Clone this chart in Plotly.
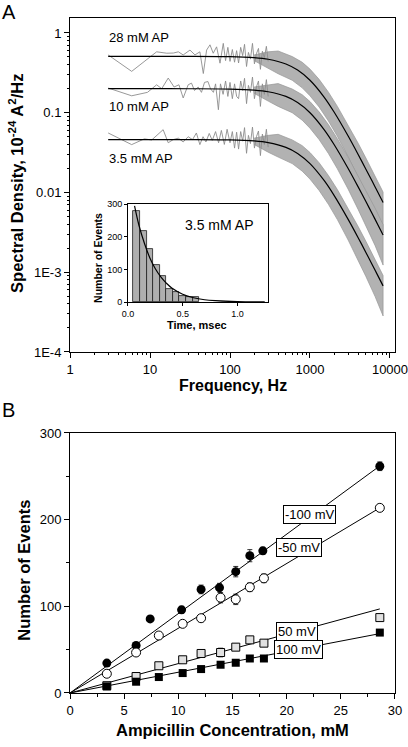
import plotly.graph_objects as go

# ---------------- Panel A: spectral density ----------------
fit_freq = [3, 10, 30, 100, 200, 300, 500, 700, 1000, 1500, 2000, 3000, 4000, 5000, 6000, 7000, 8200]
fit_28 = [0.51, 0.51, 0.5095, 0.505, 0.490, 0.468, 0.408, 0.342, 0.255, 0.157, 0.102, 0.051, 0.030, 0.0196, 0.0138, 0.0102, 0.00747]
fit_10 = [0.20, 0.20, 0.1998, 0.198, 0.192, 0.183, 0.160, 0.134, 0.100, 0.0615, 0.040, 0.020, 0.01176, 0.00769, 0.00541, 0.0040, 0.00293]
fit_35 = [0.046, 0.046, 0.04596, 0.04554, 0.04423, 0.0422, 0.0368, 0.0309, 0.023, 0.01415, 0.0092, 0.0046, 0.00271, 0.00177, 0.00124, 0.00092, 0.000674]

# low-frequency raw spectrum points
raw_freq_28 = [3.0, 5.9, 12.1, 16.2, 19.6, 22.6, 26, 31.6, 36.5, 42, 46.4, 51, 56.2, 61.7, 68, 75, 82.4, 88, 94, 100, 107, 114, 121,
               128, 136, 144, 152, 161, 170, 180, 191, 202, 214, 227, 240, 254, 269, 285, 300]
raw_28 = [0.53, 0.33, 0.58, 0.557, 0.56, 0.58, 0.53, 0.61, 0.53, 0.58, 0.31, 0.61, 0.71, 0.557, 0.67, 0.418, 0.74, 0.45, 0.66, 0.44, 0.62, 0.43, 0.60,
          0.42, 0.66, 0.52, 0.72, 0.38, 0.57, 0.47, 0.74, 0.41, 0.55, 0.64, 0.35, 0.59, 0.49, 0.68, 0.44]
raw_freq_10 = [3.0, 5.9, 9.3, 11, 12.1, 14, 16.9, 20, 23, 26, 30, 33, 36, 40, 44, 48, 53, 57, 62, 66, 71.6, 76, 82, 88, 94, 100, 107, 114, 121,
               128, 136, 144, 152, 161, 170, 180, 191, 202, 214, 227, 240, 254, 269, 285, 300]
raw_10 = [0.204, 0.163, 0.18, 0.204, 0.224, 0.20, 0.272, 0.21, 0.224, 0.153, 0.224, 0.235, 0.19, 0.21, 0.18, 0.24, 0.246, 0.20, 0.18, 0.23, 0.109, 0.23, 0.17, 0.25, 0.16, 0.24, 0.15, 0.23, 0.16,
          0.15, 0.25, 0.19, 0.27, 0.13, 0.22, 0.18, 0.28, 0.15, 0.21, 0.25, 0.12, 0.23, 0.17, 0.26, 0.16]
raw_freq_35 = [3.0, 5.9, 8.5, 10.5, 14.6, 16.9, 19.5, 22.6, 26, 30, 34, 38, 42, 46, 50, 55, 60, 66, 72, 78, 85, 92, 100, 107, 114, 121,
               128, 136, 144, 152, 161, 170, 180, 191, 202, 214, 227, 240, 254, 269, 285, 300]
raw_35 = [0.0557, 0.0398, 0.047, 0.0455, 0.0613, 0.042, 0.046, 0.048, 0.043, 0.05, 0.046, 0.0557, 0.0398, 0.05, 0.043, 0.055, 0.045, 0.058, 0.042, 0.06, 0.04, 0.062, 0.042, 0.058, 0.036, 0.057,
          0.035, 0.058, 0.044, 0.065, 0.031, 0.052, 0.041, 0.066, 0.036, 0.050, 0.059, 0.029, 0.054, 0.040, 0.062, 0.037]

# dense high-frequency spectrum: upper / lower envelopes
band_freq = [200, 300, 400, 600, 800, 1000, 1300, 1700, 2200, 3000, 4000, 5000, 6500, 8200]
up_28 = [0.53, 0.58, 0.594, 0.506, 0.429, 0.352, 0.262, 0.181, 0.120, 0.0704, 0.0414, 0.0270, 0.0163, 0.0101]
lo_28 = [0.45, 0.36, 0.308, 0.255, 0.205, 0.163, 0.118, 0.0786, 0.0506, 0.0281, 0.0156, 0.0098, 0.00555, 0.00314]
up_10 = [0.21, 0.225, 0.232, 0.198, 0.168, 0.138, 0.1025, 0.0709, 0.0472, 0.0276, 0.0162, 0.0106, 0.00638, 0.00396]
lo_10 = [0.175, 0.14, 0.120, 0.100, 0.0805, 0.064, 0.0461, 0.0308, 0.0198, 0.011, 0.00612, 0.00385, 0.00217, 0.00123]
up_35 = [0.048, 0.052, 0.0536, 0.0456, 0.0386, 0.0317, 0.0236, 0.0163, 0.01087, 0.00635, 0.00374, 0.00244, 0.00146, 0.00091]
lo_35 = [0.040, 0.032, 0.0278, 0.0230, 0.0185, 0.0147, 0.0106, 0.0071, 0.00457, 0.00253, 0.00141, 0.000885, 0.000498, 0.000283]

# inset histogram
hist_t = [0.08, 0.14, 0.20, 0.26, 0.32, 0.38, 0.44, 0.50, 0.56, 0.62]
hist_n = [280, 218, 162, 112, 81, 40, 30, 18, 14, 16]
hist_fit_t = [0.06, 0.1, 0.15, 0.2, 0.25, 0.3, 0.35, 0.4, 0.5, 0.6, 0.7, 0.8, 1.0, 1.25]
hist_fit_n = [294, 235, 180, 135, 102, 77, 58, 43, 24, 13, 7, 4, 1, 0.3]

# ---------------- Panel B: number of events vs ampicillin concentration ----------------
conc_m100 = [3.4, 6.1, 7.4, 10.3, 12.1, 13.8, 15.3, 16.6, 17.8, 28.6]
ev_m100 = [34.5, 54.8, 85.5, 95.9, 119.5, 121.5, 140, 158.4, 164, 261.6]
err_m100 = [3, 3, 3, 4, 5, 5, 6, 7, 4, 5]
conc_m50 = [3.4, 6.1, 8.2, 10.4, 12.1, 13.9, 15.3, 16.6, 17.9, 28.6]
ev_m50 = [22.2, 46.7, 66.3, 79.8, 86.3, 110, 108, 122, 132.3, 213.6]
err_m50 = [3, 3, 3, 3, 4, 6, 6, 5, 5, 3]
conc_p50 = [3.4, 6.1, 8.2, 10.4, 12.1, 13.9, 15.3, 16.6, 17.9, 28.6]
ev_p50 = [8.4, 19, 31.4, 38.3, 45.6, 46.7, 52.9, 61.3, 57.5, 87]
err_p50 = [2, 2, 3, 3, 3, 5, 3, 3, 3, 3]
conc_p100 = [3.4, 6.1, 8.2, 10.4, 12.1, 13.9, 15.3, 16.6, 17.9, 28.6]
ev_p100 = [7.6, 13, 18.4, 23, 27.6, 32.6, 34.9, 39.8, 39.8, 69.7]
fit_conc = [0, 28.6]
fitline_m100 = [0, 262]
fitline_m50 = [0, 213.6]
fitline_p50 = [0, 97]
fitline_p100 = [0, 68.5]

FONT = "Liberation Sans, Arial, sans-serif"
GRAY = "rgb(140,140,140)"
BAND = "rgb(178,178,178)"

fig = go.Figure()

# Panel A bands
for up, lo in [(up_28, lo_28), (up_10, lo_10), (up_35, lo_35)]:
    fig.add_trace(go.Scatter(x=band_freq + band_freq[::-1], y=up + lo[::-1], fill="toself",
                             fillcolor=BAND, line=dict(width=0.7, color="rgb(150,150,150)"), mode="lines",
                             xaxis="x", yaxis="y", hoverinfo="skip", showlegend=False))
for fx, fy in [(raw_freq_28, raw_28), (raw_freq_10, raw_10), (raw_freq_35, raw_35)]:
    fig.add_trace(go.Scatter(x=fx, y=fy, mode="lines", line=dict(width=0.9, color=GRAY),
                             xaxis="x", yaxis="y", showlegend=False))
for fy in [fit_28, fit_10, fit_35]:
    fig.add_trace(go.Scatter(x=fit_freq, y=fy, mode="lines", line=dict(width=1.2, color="black", shape="spline", smoothing=0.8),
                             xaxis="x", yaxis="y", showlegend=False))

# Inset
fig.add_trace(go.Bar(x=hist_t, y=hist_n, width=0.06, marker=dict(color="rgb(175,175,175)", line=dict(color="rgb(30,30,30)", width=0.8)),
                     xaxis="x3", yaxis="y3", showlegend=False))
fig.add_trace(go.Scatter(x=hist_fit_t, y=hist_fit_n, mode="lines", line=dict(width=1.2, color="black", shape="spline"),
                         xaxis="x3", yaxis="y3", showlegend=False))

# Panel B fits
for fy in [fitline_m100, fitline_m50, fitline_p50, fitline_p100]:
    fig.add_trace(go.Scatter(x=fit_conc, y=fy, mode="lines", line=dict(width=1, color="black"),
                             xaxis="x2", yaxis="y2", showlegend=False))

eb = lambda arr: dict(type="data", array=arr, color="black", thickness=0.8, width=2.5)
fig.add_trace(go.Scatter(x=conc_m100, y=ev_m100, mode="markers", error_y=eb(err_m100),
                         marker=dict(symbol="circle", size=9, color="black"), xaxis="x2", yaxis="y2", showlegend=False))
fig.add_trace(go.Scatter(x=conc_m50, y=ev_m50, mode="markers", error_y=eb(err_m50),
                         marker=dict(symbol="circle", size=9, color="white", line=dict(color="black", width=1)),
                         xaxis="x2", yaxis="y2", showlegend=False))
fig.add_trace(go.Scatter(x=conc_p50, y=ev_p50, mode="markers", error_y=eb(err_p50),
                         marker=dict(symbol="square", size=8, color="rgb(225,225,225)", line=dict(color="black", width=1)),
                         xaxis="x2", yaxis="y2", showlegend=False))
fig.add_trace(go.Scatter(x=conc_p100, y=ev_p100, mode="markers",
                         marker=dict(symbol="square", size=8, color="black"), xaxis="x2", yaxis="y2", showlegend=False))

tickfont = dict(family=FONT, size=13, color="black")
x_minor = [m * 10 ** k for k in range(4) for m in range(2, 10)]
y_minor = [m * 10 ** k for k in range(-4, 0) for m in range(2, 10)]

common = dict(showline=True, linecolor="black", linewidth=1, mirror=True, showgrid=False, zeroline=False,
              ticks="outside", tickcolor="black", automargin=False, tickfont=tickfont, ticklabeloverflow="allow")
small = {**common, "tickfont": dict(family=FONT, size=9, color="black")}

fig.update_layout(
    template="none", width=408, height=747, autosize=False,
    margin=dict(l=0, r=0, t=0, b=0), paper_bgcolor="white", plot_bgcolor="rgba(0,0,0,0)",
    showlegend=False, bargap=0,
    xaxis=dict(type="log", range=[0, 4.0625], domain=[0.1716, 0.9681], anchor="y",
               tickmode="array", tickvals=[1, 10, 100, 1000, 10000], ticktext=["1", "10", "100", "1000", "10000"],
               ticklen=5, minor=dict(tickmode="array", tickvals=x_minor, ticks="outside", ticklen=2.5, tickcolor="black"),
               **common),
    yaxis=dict(type="log", range=[-4, 0.1875], domain=[0.5288, 0.9759], anchor="x",
               tickmode="array", tickvals=[1e-4, 1e-3, 0.01, 0.1, 1], ticktext=["1E-4", "1E-3", "0.01", "0.1", "1"],
               ticklen=5, minor=dict(tickmode="array", tickvals=y_minor, ticks="outside", ticklen=2.5, tickcolor="black"),
               **common),
    xaxis2=dict(range=[0, 30], domain=[0.1716, 0.9681], anchor="y2", dtick=5, tick0=0, ticklen=5,
                minor=dict(dtick=2.5, ticks="outside", ticklen=3, tickcolor="black"), **common),
    yaxis2=dict(range=[0, 300], domain=[0.0723, 0.4204], anchor="x2", dtick=100, tick0=0, ticklen=5,
                minor=dict(dtick=50, ticks="outside", ticklen=3, tickcolor="black"), **common),
    xaxis3=dict(range=[0, 1.28], domain=[0.3137, 0.6569], anchor="y3", tickvals=[0, 0.5, 1.0],
                ticktext=["0.0", "0.5", "1.0"], ticklen=3, **small),
    yaxis3=dict(range=[0, 300], domain=[0.5957, 0.7269], anchor="x3", tickvals=[0, 100, 200, 300], ticklen=3, **small),
)

def ann(text, x, y, size, xref="paper", yref="paper", angle=0, bold=False, xanchor="center", box=False):
    d = dict(text=f"<b>{text}</b>" if bold else text, x=x, y=y, xref=xref, yref=yref, showarrow=False,
             textangle=angle, xanchor=xanchor, yanchor="middle", font=dict(family=FONT, size=size, color="black"))
    if box:
        d.update(bgcolor="white", bordercolor="black", borderwidth=1, borderpad=1)
    fig.add_annotation(**d)

ann("A", 0.022, 0.9846, 20)
ann("B", 0.022, 0.4518, 20)
ann("Spectral Density, 10<sup>-24</sup> A<sup>2</sup>/Hz", 0.039, 0.755, 16.5, angle=-90, bold=True)
ann("Frequency, Hz", 0.571, 0.4845, 16, bold=True)
ann("Number of Events", 0.059, 0.236, 16.5, angle=-90, bold=True)
ann("Ampicillin Concentration, mM", 0.571, 0.0228, 16.5, bold=True)
ann("Number of Events", 0.240, 0.6546, 10.5, angle=-90, bold=True)
ann("Time, msec", 0.482, 0.5655, 11, bold=True)
ann("28 mM AP", 0.46, -0.0625, 13, xref="x", yref="y", xanchor="left")
ann("10 mM AP", 0.46, -0.92, 13, xref="x", yref="y", xanchor="left")
ann("3.5 mM AP", 0.46, -1.575, 13, xref="x", yref="y", xanchor="left")
ann("3.5 mM AP", 0.83, 236, 14, xref="x3", yref="y3")
ann("-100 mV", 22.1, 206.5, 13, xref="x2", yref="y2", box=True)
ann("-50 mV", 21.1, 168, 13, xref="x2", yref="y2", box=True)
ann("50 mV", 21.0, 71, 13, xref="x2", yref="y2", box=True)
ann("100 mV", 21.1, 50, 13, xref="x2", yref="y2", box=True)

fig.write_html("out.html", config={"displayModeBar": False},
               post_script="document.body.style.margin='0px'; document.body.style.overflow='hidden';")
